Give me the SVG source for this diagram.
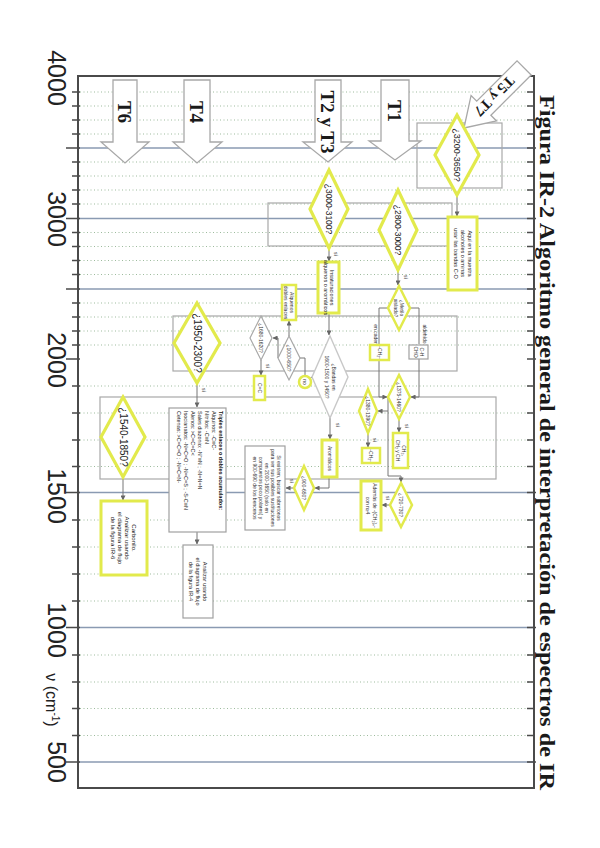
<svg xmlns="http://www.w3.org/2000/svg" width="600" height="848" viewBox="0 0 600 848">
<defs>
<marker id="ah" viewBox="0 0 6 6" refX="5.5" refY="3" markerWidth="5" markerHeight="5" orient="auto"><path d="M0,0 L6,3 L0,6 z" fill="#666"/></marker>
<style>
.frame{fill:none;stroke:#4a4a4a;stroke-width:2}
.major{stroke:#8a9ab2;stroke-width:1.6;fill:none}
.dot{stroke:#9dbb9d;stroke-width:1;stroke-dasharray:1 2.5;fill:none}
.tick{stroke:#4a4a4a;stroke-width:1.6;fill:none}
.band{fill:none;stroke:#a8a8a8;stroke-width:1.2}
.dy{fill:#fff;stroke:#e2ea4c;stroke-width:3.2;stroke-linejoin:miter}
.ry{fill:#fff;stroke:#e2ea4c;stroke-width:3}
.gb{fill:#fff;stroke:#a0a0a0;stroke-width:1.2}
.gd{fill:#fff;stroke:#a8a8a8;stroke-width:1.2}
.tarrow{fill:#fff;stroke:#a8a8a8;stroke-width:1.3}
.con{fill:none;stroke:#777;stroke-width:1}
.conA{fill:none;stroke:#777;stroke-width:1;marker-end:url(#ah)}
.ax{font-family:"Liberation Sans",Arial,sans-serif;font-size:25px;fill:#222;text-anchor:middle}
.ttl{font-family:"Liberation Serif","Times New Roman",serif;font-weight:bold;font-size:22px;fill:#1a1a1a}
.tl{font-family:"Liberation Serif","Times New Roman",serif;font-weight:bold;font-size:19px;fill:#1a1a1a;text-anchor:middle}
.dt{font-family:"Liberation Sans",Arial,sans-serif;font-size:9px;fill:#222;text-anchor:middle}
.st{font-family:"Liberation Sans",Arial,sans-serif;font-size:5.5px;fill:#222;text-anchor:middle}
.sl{font-family:"Liberation Sans",Arial,sans-serif;font-size:5.5px;fill:#222;text-anchor:start}
.yl{font-family:"Liberation Sans",Arial,sans-serif;font-size:5px;fill:#333;text-anchor:middle}
</style>
</defs>
<rect width="600" height="848" fill="#fff"/>

<!-- grid -->
<g id="grid">
<path class="dot" d="M80,92H532M80,106H532M80,120H532M80,134H532M80,162H532M80,176H532M80,190H532M80,204H532M80,232.5H532M80,246.5H532M80,260.5H532M80,274.5H532M80,303H532M80,317H532M80,331H532M80,345H532M80,386H532M80,413H532M80,440H532M80,466.5H532M80,520H532M80,547H532M80,574H532M80,601H532M80,655H532M80,682H532M80,708.5H532M80,735.5H532"/>
<path class="major" d="M78,148H534M78,218.5H534M78,289H534M78,492.5H534M78,627.5H534M78,762H534"/>
<path class="tick" d="M72,92H80M72,106H80M72,120H80M72,134H80M66,148H80M72,162H80M72,176H80M72,190H80M72,204H80M66,218.5H80M72,232.5H80M72,246.5H80M72,260.5H80M72,274.5H80M66,289H80M72,303H80M72,317H80M72,331H80M72,345H80M66,359H80M72,386H80M72,413H80M72,440H80M72,466.5H80M66,492.5H80M72,520H80M72,547H80M72,574H80M72,601H80M66,627.5H80M72,655H80M72,682H80M72,708.5H80M72,735.5H80M66,762H80"/>
<path class="tick" d="M527,92H534M527,106H534M527,120H534M527,134H534M527,148H536M527,162H534M527,176H534M527,190H534M527,204H534M527,218.5H536M527,232.5H534M527,246.5H534M527,260.5H534M527,274.5H534M527,289H536M527,303H534M527,317H534M527,331H534M527,345H534M527,359H536M527,386H534M527,413H534M527,440H534M527,466.5H534M527,492.5H536M527,520H534M527,547H534M527,574H534M527,601H534M527,627.5H536M527,655H534M527,682H534M527,708.5H534M527,735.5H534M527,762H536"/>
<rect class="frame" x="78" y="76" width="456" height="712"/>
</g>

<!-- axis labels -->
<g id="axis-labels">
<text class="ax" transform="translate(48,78) rotate(90)">4000</text>
<text class="ax" transform="translate(48,219) rotate(90)">3000</text>
<text class="ax" transform="translate(48,360) rotate(90)">2000</text>
<text class="ax" transform="translate(48,496) rotate(90)">1500</text>
<text class="ax" transform="translate(48,630) rotate(90)">1000</text>
<text class="ax" transform="translate(48,762) rotate(90)">500</text>
<text transform="translate(46,700) rotate(90)" style="font-family:'Liberation Sans',Arial,sans-serif;font-size:16px;fill:#222;text-anchor:middle">ν (cm<tspan dy="-6" font-size="10">-1</tspan><tspan dy="6">)</tspan></text>
</g>

<!-- title -->
<text id="title" class="ttl" transform="translate(540,95) rotate(90)" textLength="695" lengthAdjust="spacingAndGlyphs">Figura IR-2 Algoritmo general de interpretación de espectros de IR</text>

<!-- range bands -->
<g id="bands">
<rect class="band" x="417" y="123" width="85" height="65"/>
<rect class="band" x="268" y="203" width="184" height="43"/>
<rect class="band" x="173" y="316" width="284" height="55"/>
<rect class="band" x="100" y="397" width="396" height="82"/>
</g>

<!-- T arrows -->
<g id="T6"><polygon class="tarrow" points="113,80 137,80 137,142 149,142 125,163 101,142 113,142"/><text class="tl" transform="translate(118,112) rotate(90)">T6</text></g>
<g id="T4"><polygon class="tarrow" points="184,80 210,80 210,142 222,142 197,163 173,142 184,142"/><text class="tl" transform="translate(190,112) rotate(90)">T4</text></g>
<g id="T2yT3"><polygon class="tarrow" points="315,80 341,80 341,142 352,142 328,162 303,142 315,142"/><text class="tl" transform="translate(321,122) rotate(90)">T2 y T3</text></g>
<g id="T1"><polygon class="tarrow" points="381,80 409,80 409,141 421,141 395,160 369,141 381,141"/><text class="tl" transform="translate(388,111) rotate(90)">T1</text></g>
<g id="T5yT7" transform="translate(464,128) rotate(135)"><polygon class="tarrow" points="0,0 -28,-18 -28,-10 -85,-10 -85,10 -28,10 -28,18"/><text class="tl" x="-44" y="6" style="font-size:15px">T5 y T7</text></g>

<!-- connectors -->
<g id="connectors">
<path class="conA" d="M457,195V216"/>
<path class="conA" d="M398,270V285"/>
<path class="conA" d="M329,248V261"/>
<path class="conA" d="M329,313V335"/>
<path class="con" d="M388,308H379V344"/>
<path class="con" d="M410,308H419V344"/>
<path class="conA" d="M379,360V397H387"/>
<path class="conA" d="M419,359V397H411"/>
<path class="conA" d="M399,419V432"/>
<path class="conA" d="M388,397V411H378"/>
<path class="conA" d="M388,411V476H401V482"/>
<path class="conA" d="M368,433V447"/>
<path class="conA" d="M390,505H382"/>
<path class="conA" d="M330,418V439"/>
<path class="conA" d="M329,477V488H315"/>
<path class="conA" d="M294,488H286"/>
<path class="con" d="M312,377L308,380"/>
<path class="con" d="M300,358H305V376"/>
<path class="conA" d="M289,336V321"/>
<path class="conA" d="M278,358V338H273"/>
<path class="conA" d="M261,360V375"/>
<path class="conA" d="M197,383V407"/>
<path class="conA" d="M197,532V544"/>
<path class="conA" d="M123,477V500"/>
</g>

<!-- nodes -->
<g id="d3200">
<polygon class="dy" points="457,115 479,155 457,195 435,155"/>
<text class="dt" transform="translate(457,155) rotate(90)" y="3">¿3200-3650?</text>
</g>
<g id="r-alcoholes">
<rect class="ry" x="448" y="217" width="29" height="73"/>
<text class="st" transform="translate(462.5,253.5) rotate(90)"><tspan x="0" y="-5">Aquí en la muestra</tspan><tspan x="0" y="2">alcoholes o aminas</tspan><tspan x="0" y="9">usar las bandas C-O</tspan></text>
</g>
<g id="d2800">
<polygon class="dy" points="398,190 417,230 398,270 379,230"/>
<text class="dt" transform="translate(398,230) rotate(90)" y="3" style="font-size:8.5px">¿2800-3000?</text>
<text class="yl" transform="translate(404,277) rotate(90)">sí</text>
</g>
<g id="d3000">
<polygon class="dy" points="329,170 348,209 329,248 310,209"/>
<text class="dt" transform="translate(329,209) rotate(90)" y="3" style="font-size:8.5px">¿3000-3100?</text>
<text class="yl" transform="translate(334,254) rotate(90)">sí</text>
</g>
<g id="r-insat">
<rect class="ry" x="318" y="262" width="21" height="51"/>
<text class="st" transform="translate(328.5,287.5) rotate(90)"><tspan x="0" y="-1.5">Insaturaciones</tspan><tspan x="0" y="5">alquenos o aromáticos</tspan></text>
</g>
<g id="d-metilo">
<polygon class="dy" points="399,286 410,308 399,330 388,308" style="stroke-width:2.5"/>
<text class="yl" transform="translate(399,308) rotate(90)"><tspan x="0" y="-1">¿Metilo</tspan><tspan x="0" y="5">aislado?</tspan></text>
</g>
<g id="r-cadena">
<text class="yl" transform="translate(374,336) rotate(90)">en cadena</text>
<rect class="ry" x="370" y="345" width="19" height="15" style="stroke-width:2.5"/>
<text class="yl" transform="translate(379.5,352.5) rotate(90)" y="2">-CH₂-</text>
</g>
<g id="r-aldehido">
<text class="yl" transform="translate(423,334) rotate(90)">aldehído</text>
<rect class="gb" x="409" y="345" width="19" height="14"/>
<text class="yl" transform="translate(418.5,352) rotate(90)"><tspan x="0" y="-1">C-H</tspan><tspan x="0" y="5">CHO</tspan></text>
</g>
<g id="d1375">
<polygon class="dy" points="399,375 410,397 399,419 388,397" style="stroke-width:2.5"/>
<text class="yl" transform="translate(399,397) rotate(90)" y="2">¿1375-1460?</text>
<text class="yl" transform="translate(405,426) rotate(90)">sí</text>
</g>
<g id="r-ch3">
<rect class="ry" x="393" y="433" width="15" height="35" style="stroke-width:2.5"/>
<text class="yl" transform="translate(400.5,450.5) rotate(90)"><tspan x="0" y="-1">CH₃,</tspan><tspan x="0" y="5">CH₂ y CH</tspan></text>
</g>
<g id="d1380">
<polygon class="dy" points="368,389 377,411 368,433 359,411" style="stroke-width:2.5"/>
<text class="yl" transform="translate(368,411) rotate(90)" y="2">¿1380-1390?</text>
<text class="yl" transform="translate(373,440) rotate(90)">sí</text>
</g>
<g id="r-ch2">
<rect class="ry" x="362" y="448" width="18" height="15" style="stroke-width:2.5"/>
<text class="yl" transform="translate(371,455.5) rotate(90)" y="2">-CH₂-</text>
</g>
<g id="d720">
<polygon class="dy" points="401,483 412,505 401,527 390,505" style="stroke-width:2.5"/>
<text class="yl" transform="translate(401,505) rotate(90)" y="2">¿720-730?</text>
<text class="yl" transform="translate(386,498) rotate(90)">sí</text>
</g>
<g id="r-cadena-larga">
<rect class="ry" x="361" y="481" width="20" height="49"/>
<text class="yl" transform="translate(371,505.5) rotate(90)"><tspan x="0" y="-1.5">Además de -(CH₂)ₙ-</tspan><tspan x="0" y="5">con n≥4</tspan></text>
</g>
<g id="d-bandas">
<polygon class="dy" points="330,336 348,377 330,418 312,377" style="stroke:#c8c8c8;stroke-width:1.4"/>
<text class="yl" transform="translate(330,377) rotate(90)"><tspan x="0" y="-2">¿Bandas en</tspan><tspan x="0" y="5">1600-1500 y 1450?</tspan></text>
<text class="yl" transform="translate(336,425) rotate(90)">sí</text>
</g>
<g id="r-aromaticos">
<rect class="ry" x="322" y="440" width="15" height="37"/>
<text class="yl" transform="translate(329.5,458.5) rotate(90)" y="2">Aromáticos</text>
</g>
<g id="d900">
<polygon class="dy" points="304,466 314,488 304,510 294,488" style="stroke-width:2.5"/>
<text class="yl" transform="translate(304,488) rotate(90)" y="2">¿900-650?</text>
<text class="yl" transform="translate(290,481) rotate(90)">sí</text>
</g>
<g id="r-sustitucion">
<rect class="gb" x="245" y="446" width="40" height="84"/>
<text class="yl" transform="translate(265,488) rotate(90)"><tspan x="0" y="-12">Si existen, buscar sobretonos</tspan><tspan x="0" y="-6">para ver sus posibles sustituciones</tspan><tspan x="0" y="0">en 2000-1650 (solo en</tspan><tspan x="0" y="6">compuestos poco polares) y</tspan><tspan x="0" y="12">en 900-690 de los bencenos</tspan></text>
</g>
<g id="c-no">
<circle cx="305" cy="382" r="6" fill="#fff" stroke="#e2ea4c" stroke-width="2.5"/>
<text class="yl" transform="translate(305,382) rotate(90)" y="2">no</text>
</g>
<g id="d1000">
<polygon class="gd" points="289,336 300,358 289,380 278,358"/>
<text class="yl" transform="translate(289,358) rotate(90)" y="2">¿1000-650?</text>
</g>
<g id="r-alquenos">
<rect class="ry" x="282" y="285" width="14" height="35" style="stroke-width:2.5"/>
<text class="yl" transform="translate(289,302.5) rotate(90)"><tspan x="0" y="-1">Alquenos</tspan><tspan x="0" y="5">dobles enlaces</tspan></text>
</g>
<g id="d1680">
<polygon class="gd" points="261,316 272,338 261,360 250,338"/>
<text class="yl" transform="translate(261,338) rotate(90)" y="2">¿1680-1620?</text>
<text class="yl" transform="translate(266,366) rotate(90)">sí</text>
</g>
<g id="r-cc">
<rect class="ry" x="254" y="376" width="11" height="24" style="stroke-width:2.5"/>
<text class="yl" transform="translate(259.5,388) rotate(90)" y="2">C=C</text>
</g>
<g id="d1950">
<polygon class="dy" points="197,303 220,343 197,383 174,343"/>
<text class="dt" transform="translate(197,343) rotate(90)" y="3.5" style="font-size:10px">¿1950-2300?</text>
<text class="yl" transform="translate(202,390) rotate(90)">sí</text>
</g>
<g id="r-triples">
<rect class="gb" x="169" y="408" width="57" height="124"/>
<text class="sl" transform="translate(197.5,411) rotate(90)"><tspan x="0" y="-21" style="fill:#111;font-weight:bold">Triples enlaces o dobles acumulados:</tspan><tspan x="0" y="-14">Alquinos: -C≡C-</tspan><tspan x="0" y="-7">Nitrilos: -C≡N</tspan><tspan x="0" y="0">Sales diazonio: -N⁺≡N ; -N=N=N</tspan><tspan x="0" y="7">Alenos: &gt;C=C=C&lt;</tspan><tspan x="0" y="14">Isocianatos: -N=C=O ; -N=C=S ; -S-C≡N</tspan><tspan x="0" y="21">Cetenas: &gt;C=C=O ; -N=C=N-</tspan></text>
</g>
<g id="r-analizar4">
<rect class="gb" x="183" y="545" width="30" height="73"/>
<text class="st" transform="translate(198,581.5) rotate(90)"><tspan x="0" y="-5">Analizar usando</tspan><tspan x="0" y="2">el diagrama de flujo</tspan><tspan x="0" y="9">de la figura IR-4</tspan></text>
</g>
<g id="d1540">
<polygon class="dy" points="123,397 145,437 123,477 101,437"/>
<text class="dt" transform="translate(123,437) rotate(90)" y="3.5" style="font-size:10px">¿1540-1850?</text>
</g>
<g id="r-carbonilo">
<rect class="ry" x="101" y="501" width="46" height="74"/>
<text class="st" transform="translate(124,538) rotate(90)" style="font-size:6px"><tspan x="0" y="-8">Carbonilo.</tspan><tspan x="0" y="-1">Analizar usando</tspan><tspan x="0" y="6">el diagrama de flujo</tspan><tspan x="0" y="13">de la figura IR-6</tspan></text>
</g>
</svg>
